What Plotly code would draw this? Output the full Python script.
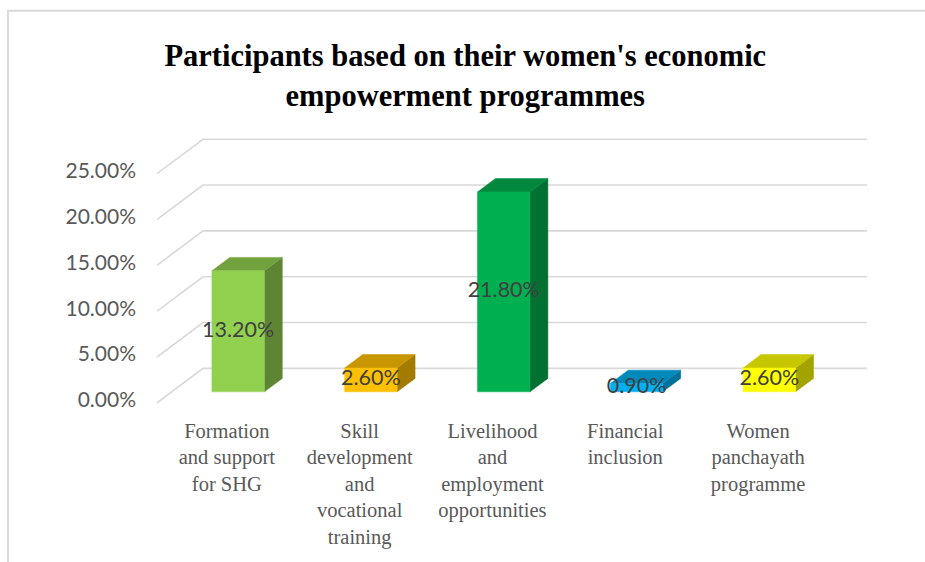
import plotly.graph_objects as go

# ---- data -------------------------------------------------------------
categories = [
    "Formation<br>and support<br>for SHG",
    "Skill<br>development<br>and<br>vocational<br>training",
    "Livelihood<br>and<br>employment<br>opportunities",
    "Financial<br>inclusion",
    "Women<br>panchayath<br>programme",
]
values = [13.2, 2.6, 21.8, 0.9, 2.6]          # percent of participants
tick_values = [0, 5, 10, 15, 20, 25]
tick_labels = [f"{v:.2f}%" for v in tick_values]

# ---- style ------------------------------------------------------------
front_colors = ["#92D050", "#FFC000", "#00B050", "#00B0F0", "#FFFF00"]
TOP_SHADE, SIDE_SHADE = 0.78, 0.64

W, H = 925, 562
PX_CAT = 132.8          # pixels per category slot
PX_PCT = 9.16           # pixels per percentage point
LEFT = 157.0            # left edge of the floor front
BASE = 402.7            # pixel row of 0 % on the front plane
DEPTH_PX = (46.0, 34.4) # oblique offset of the back wall

DX = DEPTH_PX[0] / PX_CAT   # depth offset in category units
DY = DEPTH_PX[1] / PX_PCT   # depth offset in percent units
BAR_FRONT = 0.32            # depth of the bar front face
BAR_DEPTH = 0.39            # bar thickness (fraction of full depth)
BAR_W = 0.395               # bar width (fraction of a slot)

X_RANGE = [-0.5, len(categories) - 0.5 + DX]
Y_RANGE = [-1, 29]
plot_w = (X_RANGE[1] - X_RANGE[0]) * PX_CAT
plot_h = (Y_RANGE[1] - Y_RANGE[0]) * PX_PCT
m_l = LEFT
m_t = BASE - Y_RANGE[1] * PX_PCT
m_r = W - m_l - plot_w
m_b = H - m_t - plot_h


def shade(hex_color, f):
    r, g, b = (int(hex_color[i:i + 2], 16) for i in (1, 3, 5))
    return "#%02X%02X%02X" % (round(r * f), round(g * f), round(b * f))


fig = go.Figure()

# oblique gridlines: left-wall diagonal + back-wall horizontal
gx, gy = [], []
for v in tick_values:
    gx += [X_RANGE[0], X_RANGE[0] + DX, X_RANGE[1], None]
    gy += [v, v + DY, v + DY, None]
fig.add_trace(go.Scatter(x=gx, y=gy, mode="lines",
                         line=dict(color="#D9D9D9", width=1.6),
                         hoverinfo="skip", showlegend=False))

# 3-D bars: side face, top face, front face
bd_x, bd_y = BAR_DEPTH * DX, BAR_DEPTH * DY
for i, (v, c) in enumerate(zip(values, front_colors)):
    x0 = i - BAR_W / 2 + BAR_FRONT * DX
    x1 = x0 + BAR_W
    y0 = BAR_FRONT * DY
    y1 = y0 + v
    faces = [
        ([x1, x1, x1 + bd_x, x1 + bd_x, x1], [y0, y1, y1 + bd_y, y0 + bd_y, y0], shade(c, SIDE_SHADE)),
        ([x0, x1, x1 + bd_x, x0 + bd_x, x0], [y1, y1, y1 + bd_y, y1 + bd_y, y1], shade(c, TOP_SHADE)),
        ([x0, x1, x1, x0, x0], [y0, y0, y1, y1, y0], c),
    ]
    for fx, fy, col in faces:
        fig.add_trace(go.Scatter(x=fx, y=fy, mode="lines", fill="toself",
                                 fillcolor=col, line=dict(color=col, width=0.5),
                                 hoverinfo="skip", showlegend=False))

# value labels on the bar fronts
fig.add_trace(go.Scatter(
    x=[i + BAR_FRONT * DX for i in range(len(values))],
    y=[BAR_FRONT * DY + v / 2 for v in values],
    text=[f"{v:.2f}%" for v in values],
    mode="text",
    textfont=dict(family="Lato", size=21.5, color="#404040"),
    hoverinfo="skip", showlegend=False))

fig.update_layout(
    width=W, height=H, autosize=False,
    margin=dict(l=m_l, r=m_r, t=m_t, b=m_b, pad=0),
    paper_bgcolor="white", plot_bgcolor="white",
    title=dict(
        text="Participants based on their women's economic<br>empowerment programmes",
        font=dict(family="Liberation Serif", size=30.5, color="#000000", weight="bold"),
        x=0.503, xref="container", xanchor="center",
        y=1 - 66 / H, yref="container", yanchor="middle"),
    xaxis=dict(range=X_RANGE, showgrid=False, zeroline=False, showline=False,
               tickmode="array", tickvals=[i + 0.026 for i in range(len(categories))],
               ticktext=categories, ticks="", ticklabelstandoff=4,
               tickfont=dict(family="Liberation Serif", size=20.5, color="#595959"),
               fixedrange=True),
    yaxis=dict(range=Y_RANGE, showgrid=False, zeroline=False, showline=False,
               tickmode="array", tickvals=tick_values, ticktext=tick_labels,
               ticks="", ticklabelstandoff=20, ticklabelshift=-3,
               tickfont=dict(family="Lato", size=21, color="#595959"),
               fixedrange=True),
    shapes=[dict(type="rect", xref="paper", yref="paper",
                 x0=(8 - m_l) / plot_w, x1=(W + 10 - m_l) / plot_w,
                 y0=1 - (H + 10 - m_t) / plot_h, y1=1 + (m_t - 11) / plot_h,
                 line=dict(color="#D9D9D9", width=2), layer="below")],
)

fig.write_html("out.html", config={"displayModeBar": False})
